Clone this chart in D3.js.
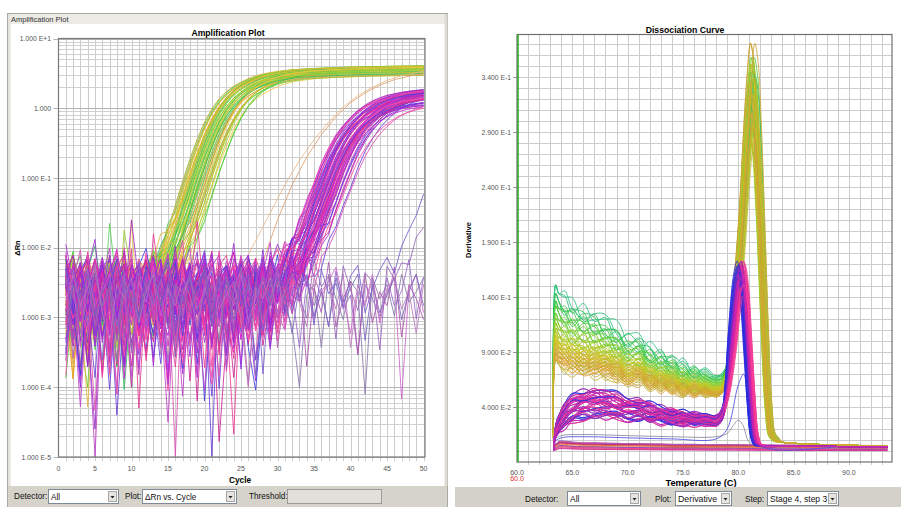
<!DOCTYPE html>
<html><head><meta charset="utf-8">
<script src="https://cdn.jsdelivr.net/npm/d3@7"></script>
<style>
body{margin:0;background:#fff;}
svg text{font-family:"Liberation Sans",Arial,sans-serif;}
</style></head>
<body><svg id="c" width="901" height="507"></svg>
<script>
// ================= DATA =================
// --- Amplification plot ---
const ampCycles = [1,2,3,4,5,6,7,8,9,10,11,12,13,14,15,16,17,18,19,20,21,22,23,24,25,26,27,28,29,30,31,32,33,34,35,36,37,38,39,40,41,42,43,44,45,46,47,48,49,50];
const ampXTicks = [0,5,10,15,20,25,30,35,40,45,50];
const ampYTicks = [10,1,0.1,0.01,0.001,0.0001,0.00001];
const ampYLabels = ["1.000 E+1","1.000","1.000 E-1","1.000 E-2","1.000 E-3","1.000 E-4","1.000 E-5"];
// early (green/yellow) amplification shape, log10(ΔRn) vs cycle
const greenTplCycle = [0,8,10,11,12,13,14,15,16,17,18,19,20,21,22,23,24,25,26,27,28,29,30,32,35,40,45,50,60];
const greenTplLog   = [-12,-4.32,-3.72,-3.42,-3.12,-2.82,-2.5,-2.2,-1.85,-1.5,-1.15,-0.82,-0.52,-0.27,-0.07,0.08,0.19,0.27,0.33,0.38,0.42,0.45,0.47,0.5,0.52,0.54,0.55,0.56,0.57];
const greenShift = [-1.0,0.2,1.1,-0.4,2.3,0.7,-0.8,1.6,0.0,2.9,0.4,-0.2,1.3,3.4,0.9,-0.6,1.9,0.5,2.6,-1.2,1.0,0.1,2.1];
const greenPlat  = [0.02,-0.03,0.0,0.04,-0.06,0.01,0.03,-0.02,0.05,-0.08,0.0,0.02,-0.04];
const greenColorsA = ["#3fcf3f","#9acd32","#d4c42a","#e8a030","#5ccc5c","#b8cc2e","#e0b840","#33bb66","#a6d23a","#eec844","#70cc30","#d8a848"];
// late (magenta/purple) amplification shape
const magTplCycle = [0,20,26,28,30,31,32,33,34,35,36,37,38,39,40,41,42,43,44,45,46,47,48,49,50,52,55,70];
const magTplLog   = [-12,-6.3,-4.5,-3.9,-3.2,-2.9,-2.6,-2.3,-2.0,-1.7,-1.4,-1.1,-0.82,-0.6,-0.42,-0.28,-0.17,-0.08,-0.01,0.04,0.08,0.11,0.13,0.15,0.16,0.18,0.2,0.22];
const magShift = [-2.0,-0.5,0.8,-1.3,0.2,1.6,-0.9,0.5,-1.7,1.1,-0.2,2.4,0.0,-1.1,0.9,-0.6,1.9,0.3,-1.5,0.6,3.2,-0.3,1.3];
const magPlat  = [0.05,-0.04,0.1,0.0,-0.1,0.07,-0.02,0.03,-0.15,0.08,-0.06,0.02,0.12];
const magColorsA = ["#d21ecf","#ee3a9a","#8a2be2","#c040c8","#4040e0","#e23a8e","#a52ad2","#dc50b4","#6a40dc","#cf2299","#ff4aa8","#9a33cc"];
// per-curve baseline level shift of the noise (log10)
const noiseLift = [0,-0.2,0.1,-0.1,-0.3,0.05,-0.15,0.15,-0.05,-0.25,0.08,-0.35,0.02];
// very late risers and negative controls
const lateShifts = [13.5,15.2];
const lateColors = ["#7a5acc","#9966bb"];
const orangeCycles = [[25,27,29,31,33,35,37,39,41,43,45,47,50],[28,30,32,34,36,38,40,42,44,46,48,50]];
const orangeLogs = [[-2.3,-1.9,-1.5,-1.1,-0.75,-0.45,-0.2,0.02,0.18,0.3,0.4,0.47,0.53],[-2.2,-1.6,-1.1,-0.7,-0.38,-0.12,0.08,0.22,0.33,0.41,0.46,0.5]];
const orangeColors = ["#e8b888","#dea070"];
const negColors = ["#9966cc","#cc66cc","#8877aa","#aa55aa","#7766bb","#bb77bb"];
// baseline noise, log10(ΔRn) x 100
const noiseRows = [
[-250,-205,-290,-230,-335,-220,-262,-300,-214,-272,-245,-322,-226,-281,-210,-302,-255,-236,-352,-241,-266,-221,-311,-246,-276,-231,-362,-251,-216,-291,-241,-306,-261,-226,-286,-251,-331,-236,-271,-246,-301,-221,-276,-256,-341,-241,-261,-286,-231,-271],
[-232,-281,-219,-312,-241,-266,-385,-236,-291,-213,-331,-251,-271,-226,-358,-246,-281,-209,-301,-261,-236,-341,-226,-296,-251,-271,-216,-316,-241,-261,-291,-226,-346,-256,-231,-301,-246,-276,-221,-311,-251,-266,-236,-291,-256,-226,-321,-246,-271,-241],
[-272,-224,-256,-372,-231,-286,-241,-198,-311,-251,-231,-276,-395,-241,-266,-221,-301,-246,-231,-291,-256,-216,-336,-261,-241,-281,-226,-251,-306,-236,-271,-246,-216,-301,-261,-351,-231,-256,-286,-226,-271,-241,-311,-231,-261,-296,-246,-226,-281,-256],
[-216,-261,-311,-241,-271,-226,-296,-251,-231,-405,-246,-226,-281,-256,-241,-331,-221,-271,-251,-226,-301,-246,-378,-236,-266,-216,-286,-241,-331,-256,-231,-276,-251,-216,-301,-241,-271,-226,-296,-261,-236,-281,-216,-306,-246,-266,-231,-291,-251,-236],
[-291,-246,-226,-271,-236,-345,-256,-281,-241,-226,-301,-266,-236,-291,-251,-226,-371,-241,-271,-231,-256,-311,-241,-226,-286,-251,-301,-231,-266,-246,-226,-321,-241,-281,-256,-231,-291,-251,-226,-271,-341,-241,-261,-226,-286,-251,-236,-301,-246,-261],
[-241,-301,-261,-226,-331,-251,-231,-276,-361,-246,-221,-266,-251,-301,-231,-281,-246,-216,-321,-256,-241,-271,-226,-306,-241,-261,-236,-281,-251,-226,-381,-246,-266,-231,-291,-256,-241,-311,-231,-266,-251,-286,-241,-226,-301,-266,-241,-226,-311,-246],
[-261,-236,-271,-301,-216,-256,-241,-331,-226,-261,-291,-236,-251,-398,-231,-261,-241,-286,-226,-266,-251,-231,-291,-241,-311,-256,-226,-271,-241,-351,-236,-256,-281,-246,-226,-266,-301,-241,-251,-231,-276,-256,-241,-321,-231,-261,-286,-241,-256,-231],
[-226,-271,-246,-212,-281,-321,-241,-261,-231,-296,-251,-226,-341,-246,-271,-231,-256,-301,-241,-216,-276,-256,-236,-291,-388,-246,-261,-231,-286,-251,-241,-266,-301,-231,-256,-241,-276,-226,-331,-251,-266,-236,-291,-246,-231,-276,-251,-311,-241,-266]
];
// individual spikes / deep dips: [group, curve, cycle, log10]
const ampOverrides = [
["mag",3,5,-5.0],["mag",11,5,-4.6],["green",6,12,-4.6],["green",2,13,-4.3],["mag",7,16,-5.0],["mag",15,15,-4.5],
["mag",20,21,-5.0],["mag",9,22,-4.8],["mag",1,24,-5.0],["mag",18,30,-4.7],["neg",2,33,-4.0],["mag",5,11,-4.3],
["mag",13,8,-4.1],["green",10,4,-4.0],["mag",27,3,-3.9],["mag",33,19,-4.2],["mag",40,27,-4.4],
["green",4,7,-1.65],["green",9,10,-1.6],["green",13,9,-1.75],["mag",6,10,-1.6],["mag",17,19,-1.62],["mag",25,13,-1.8],["mag",30,1,-1.95]
];

// --- Dissociation curve ---
const dXTicks = [60,65,70,75,80,85,90];
const dXLabels = ["60.0","65.0","70.0","75.0","80.0","85.0","90.0"];
const dYTicks = [0.04,0.09,0.14,0.19,0.24,0.29,0.34];
const dYLabels = ["4.000 E-2","9.000 E-2","1.400 E-1","1.900 E-1","2.400 E-1","2.900 E-1","3.400 E-1"];
const dTemp = [63.3,63.5,63.8,64.3,65,66,67,68,69,70,71,72,73,74,75,76,77,78,78.5,79,79.5,80,80.3,80.6,80.9,81.2,81.5,81.8,82.1,82.4,82.7,83.0,83.4,84,85,86,87,88,89,90,91,92,93,93.5];
const dGreen = [0.012,0.112,0.106,0.102,0.098,0.095,0.092,0.088,0.085,0.081,0.077,0.073,0.07,0.067,0.064,0.061,0.059,0.058,0.06,0.072,0.11,0.165,0.205,0.255,0.295,0.32,0.305,0.255,0.18,0.1,0.04,0.015,0.01,0.008,0.007,0.0065,0.006,0.0058,0.0055,0.0053,0.005,0.005,0.0048,0.0047];
const dMag = [0.0,0.018,0.025,0.032,0.038,0.042,0.043,0.042,0.041,0.039,0.037,0.035,0.033,0.031,0.030,0.029,0.028,0.028,0.033,0.055,0.10,0.15,0.16,0.145,0.10,0.05,0.015,0.006,0.005,0.0045,0.0045,0.0045,0.0045,0.0045,0.0044,0.0043,0.0042,0.0042,0.0041,0.004,0.004,0.0039,0.0038,0.0038];
const dFlat = [0.008,0.004,0.006,0.006,0.0055,0.005,0.005,0.0048,0.0047,0.0045,0.0045,0.0043,0.0042,0.004,0.004,0.004,0.0038,0.0038,0.0038,0.0038,0.0038,0.0037,0.0037,0.0037,0.0036,0.0036,0.0036,0.0035,0.0035,0.0035,0.0035,0.0035,0.0034,0.0034,0.0034,0.0033,0.0033,0.0033,0.0032,0.0032,0.0032,0.0031,0.0031,0.003];
const greenBase = [1.35,1.28,1.22,1.18,1.12,1.08,1.04,1.0,0.97,0.94,0.92,0.9,0.88,0.86,0.84,0.82,0.8,0.78,0.76,0.74];
const greenColorsD = ["#2fbf7f","#33c25a","#3fc84a","#55cc3c","#6fd03a","#88cc30","#99cc2a","#a8c828","#b8c826","#c4c424","#cccc22","#d0c020","#c8b820","#d4b030","#ccb040","#d8a838","#c8a030","#d0a840","#e0a030","#c0b030"];
const greenPeak = [1.0,1.08,0.95,1.12,0.9,1.04,0.97,1.1,0.93,1.02,1.06,0.88,0.99,1.05,0.92,1.16,0.96,1.01,0.94,1.07,0.98];
const greenTShift = [0.0,0.15,-0.1,0.25,-0.2,0.08,0.3,-0.05,0.12,-0.15,0.2,0.05,-0.25,0.1,0.35,-0.08,0.18];
const magBase = [1.15,0.8,1.28,0.72,1.0,1.2,0.9,1.08,0.66,1.32,0.86,1.12,0.76,1.04,0.95];
const magPeak = [1.0,0.92,1.05,0.96,1.08,0.9,1.02,0.94,1.06,0.98,0.88,1.04,0.95];
const magTShift = [-0.3,-0.1,0.1,-0.2,0.2,0.0,-0.4,0.15,-0.05,0.3,-0.25,0.05];
const magColorsD = ["#3030d8","#d020a0","#e83890","#6a2ad0","#ff3a9a","#c020c0","#2a2ae0","#e0308a","#b020b0","#f0409a","#5030d0","#d82a9a"];
const flatScale = [0.7,1.3,1.0,0.85,1.5,1.15,0.6,1.2,0.95,1.4,0.8,1.1,0.9,1.25,0.75,1.05];
const flatColors = ["#e0307a","#c020c0","#ff5a8a","#d04070","#9a3ad0","#e85a5a","#cc2299","#f06090","#b030b0","#e04060","#d2691e","#a05ad0","#ff4080","#c03070","#e07030","#8a40c0"];
// small wiggles (x 0.001) on the 64.3..78 C shoulder
const wiggles = [
[3,-4,6,-2,5,-6,2,7,-3,4,-5,3,-2,4,0],
[-5,4,-2,7,-4,3,-6,2,5,-3,6,-4,3,-1,2],
[2,6,-5,-1,4,7,-3,-5,6,1,-4,5,-2,3,-1],
[-3,-6,4,5,-2,-4,6,3,-5,2,4,-3,5,-2,1],
[6,-1,-4,3,7,-2,-5,4,2,-6,3,1,-4,2,-2],
[-2,3,5,-6,1,4,-3,6,-4,5,-2,-5,4,1,-1]
];
const oddTemps = [[63.3,64,66,70,74,78,79,79.6,80,80.4,81,82,85,90,93.5],[63.3,64,66,70,74,78,79,80,80.5,81,82,90,93.5]];
const oddVals = [[0.01,0.014,0.015,0.014,0.013,0.013,0.016,0.024,0.028,0.024,0.008,0.004,0.004,0.004,0.004],[0.008,0.012,0.013,0.012,0.011,0.011,0.02,0.06,0.07,0.03,0.005,0.004,0.003]];
const oddColors = ["#8888a0","#5050e0"];

// ================= DRAWING =================
const svg = d3.select("#c");
const defs = svg.append("defs");

// ---------- Left panel frame ----------
svg.append("rect").attr("x",7.5).attr("y",13.5).attr("width",440).attr("height",493).attr("fill","#fff").attr("stroke","#a9a9a2");
svg.append("rect").attr("x",8).attr("y",14).attr("width",439).attr("height",10).attr("fill","#ecebe6");
svg.append("rect").attr("x",8).attr("y",14).attr("width",2.5).attr("height",472).attr("fill","#e4e2dc");
svg.append("rect").attr("x",444.5).attr("y",14).attr("width",3).attr("height",472).attr("fill","#dddbd4");
svg.append("text").attr("x",11).attr("y",21.5).attr("font-size","7.5px").attr("fill","#333").text("Amplification Plot");

const ax = d3.scaleLinear().domain([0,50.2]).range([58.5,425]);
const ay = d3.scaleLog().domain([1e-5,10]).range([457,38.5]);
const A = {l:58.5,r:425,t:38.5,b:457};

const gA = svg.append("g");
const vx = ampCycles.map(c=>Math.round(ax(c))+0.5);
gA.selectAll(".vg").data(vx).enter().append("line").attr("x1",d=>d).attr("x2",d=>d).attr("y1",A.t).attr("y2",A.b+4).attr("stroke","#cccccc").attr("stroke-width",1);
const minors = [];
for (let e=-5;e<1;e++) for (let k=2;k<10;k++) minors.push(k*Math.pow(10,e));
gA.selectAll(".hg").data(minors).enter().append("line").attr("x1",A.l).attr("x2",A.r).attr("y1",d=>Math.round(ay(d))+0.5).attr("y2",d=>Math.round(ay(d))+0.5).attr("stroke","#cfcfcf");
gA.selectAll(".hm").data(ampYTicks).enter().append("line").attr("x1",A.l-5).attr("x2",A.r).attr("y1",d=>Math.round(ay(d))+0.5).attr("y2",d=>Math.round(ay(d))+0.5).attr("stroke","#b4b4b4");

defs.append("clipPath").attr("id","clipA").append("rect").attr("x",A.l).attr("y",A.t).attr("width",A.r-A.l).attr("height",A.b-A.t);
const gAc = svg.append("g").attr("clip-path","url(#clipA)");
const ampLine = d3.line().x(d=>ax(d[0])).y(d=>ay(Math.pow(10,d[1])));
const gTpl = d3.scaleLinear().domain(greenTplCycle).range(greenTplLog).clamp(true);
const mTpl = d3.scaleLinear().domain(magTplCycle).range(magTplLog).clamp(true);
function ovr(group,i,c){ for (const o of ampOverrides) if (o[0]===group && o[1]===i && o[2]===c) return o[3]; return null; }
function buildAmp(group,i,tpl,s,dp,row,off,lift){
  const r = noiseRows[row];
  return ampCycles.map(c=>{
    let a = tpl ? tpl(c-s) : -12;
    if (tpl) a += dp*Math.max(0,Math.min(1,(a+2)/2.56));
    let n = r[(c-1+off)%r.length]/100 + lift;
    const o = ovr(group,i,c); if (o!==null) n = o;
    return [c, Math.log10(Math.pow(10,a)+Math.pow(10,n))];
  });
}
const ampCurves = [];
for (let i=0;i<46;i++) ampCurves.push({pts:buildAmp("green",i,gTpl,greenShift[i%greenShift.length],greenPlat[i%greenPlat.length],i%8,(i*7)%50,noiseLift[i%noiseLift.length]), color:greenColorsA[i%greenColorsA.length]});
orangeCycles.forEach((cs,j)=>{
  const r = noiseRows[(j*3+1)%8];
  const pts = ampCycles.filter(c=>c<cs[0]).map(c=>[c, r[(c-1+j*13)%50]/100]);
  cs.forEach((c,k)=>pts.push([c,orangeLogs[j][k]]));
  ampCurves.push({pts, color:orangeColors[j]});
});
for (let i=0;i<64;i++) ampCurves.push({pts:buildAmp("mag",i,mTpl,magShift[i%magShift.length],magPlat[i%magPlat.length],(i+3)%8,(i*11)%50,noiseLift[(i+5)%noiseLift.length]), color:magColorsA[i%magColorsA.length]});
for (let i=0;i<6;i++) ampCurves.push({pts:buildAmp("neg",i,null,0,0,(i*3)%8,(i*9+4)%50,-0.12), color:negColors[i]});
lateShifts.forEach((s,j)=>ampCurves.push({pts:buildAmp("late",j,mTpl,s,0,(j+5)%8,(j*17+3)%50,0), color:lateColors[j]}));
gAc.selectAll(".ac").data(ampCurves).enter().append("path").attr("d",d=>ampLine(d.pts)).attr("fill","none").attr("stroke",d=>d.color).attr("stroke-width",1).attr("stroke-opacity",0.85);

svg.append("rect").attr("x",A.l).attr("y",A.t).attr("width",A.r-A.l).attr("height",A.b-A.t).attr("fill","none").attr("stroke","#7a7a7a").attr("stroke-width",1.2);
svg.selectAll(".ayl").data(ampYTicks).enter().append("text").attr("x",51).attr("y",d=>ay(d)+2.5).attr("text-anchor","end").attr("font-size","6.8px").attr("fill","#555").text((d,i)=>ampYLabels[i]);
svg.selectAll(".axl").data(ampXTicks).enter().append("text").attr("x",d=>ax(d)).attr("y",471).attr("text-anchor","middle").attr("font-size","7px").attr("fill","#555").text(d=>d);
svg.append("text").attr("x",228).attr("y",36).attr("text-anchor","middle").attr("font-size","8.6px").attr("font-weight","bold").text("Amplification Plot");
svg.append("text").attr("x",240).attr("y",483).attr("text-anchor","middle").attr("font-size","8.3px").attr("font-weight","bold").text("Cycle");
svg.append("text").attr("transform","translate(20,248) rotate(-90)").attr("text-anchor","middle").attr("font-size","7.5px").attr("font-weight","bold").text("ΔRn");

// ---------- Right panel ----------
const dx = d3.scaleLinear().domain([60,93.9]).range([517,892]);
const dy = d3.scaleLinear().domain([-0.01,0.3791]).range([462,34.5]);
const D = {l:517,r:892,t:34.5,b:462};
const gD = svg.append("g");
const dVert = []; for (let t=61;t<=93;t++) dVert.push(t);
gD.selectAll(".dv").data(dVert).enter().append("line").attr("x1",d=>Math.round(dx(d))+0.5).attr("x2",d=>Math.round(dx(d))+0.5).attr("y1",D.t).attr("y2",D.b+3).attr("stroke","#cccccc");
const dHor = []; for (let k=0;k<=37;k++) dHor.push(k/100);
gD.selectAll(".dh").data(dHor).enter().append("line").attr("x1",D.l).attr("x2",D.r).attr("y1",d=>Math.round(dy(d))+0.5).attr("y2",d=>Math.round(dy(d))+0.5).attr("stroke","#cccccc");
gD.selectAll(".dt").data(dYTicks).enter().append("line").attr("x1",D.l-4).attr("x2",D.l).attr("y1",d=>Math.round(dy(d))+0.5).attr("y2",d=>Math.round(dy(d))+0.5).attr("stroke","#999");

defs.append("clipPath").attr("id","clipD").append("rect").attr("x",D.l).attr("y",D.t).attr("width",D.r-D.l).attr("height",D.b-D.t);
const gDc = svg.append("g").attr("clip-path","url(#clipD)");
const dLine = d3.line().curve(d3.curveCatmullRom.alpha(0.5)).x(d=>dx(d[0])).y(d=>dy(d[1]));
const wigStart = dTemp.indexOf(64.3);
function buildDiss(tpl,bs,ps,sh,wrow,ws){
  return dTemp.map((T,k)=>{
    let v = tpl[k], t = T;
    const f = T<64 ? 1 : Math.max(0.5, 1-0.5*(T-64)/14);
    const be = 1+(bs-1)*f;
    if (T<=78.5){ v = v*be; const wi = k-wigStart; if (wrow && wi>=0 && wi<wrow.length) v += wrow[wi]*ws/1000; }
    else if (T<=79){ v = v*(be+ps)/2; t = T+sh*0.5; }
    else if (T<=83.4){ v = v*ps; t = T+sh; }
    return [t,v];
  });
}
const dCurves = [];
flatScale.forEach((s,i)=>dCurves.push({pts:dTemp.map((T,k)=>[T,dFlat[k]*s + (i%3-1)*0.0015]), color:flatColors[i]}));
oddTemps.forEach((ts,j)=>dCurves.push({pts:ts.map((t,k)=>[t,oddVals[j][k]]), color:oddColors[j]}));
for (let i=0;i<60;i++){
  const bi = i%greenBase.length;
  dCurves.push({pts:buildDiss(dGreen,greenBase[bi],greenPeak[i%greenPeak.length],greenTShift[i%greenTShift.length],wiggles[i%wiggles.length],0.6+0.6*greenBase[bi]), color:greenColorsD[bi]});
}
for (let i=0;i<66;i++){
  const si = i%magTShift.length;
  dCurves.push({pts:buildDiss(dMag,magBase[i%magBase.length],magPeak[i%magPeak.length],magTShift[si],wiggles[(i+2)%wiggles.length],0.45), color:magColorsD[si]});
}
gDc.selectAll(".dc").data(dCurves).enter().append("path").attr("d",d=>dLine(d.pts)).attr("fill","none").attr("stroke",d=>d.color).attr("stroke-width",1).attr("stroke-opacity",0.85);

svg.append("rect").attr("x",D.l).attr("y",D.t).attr("width",D.r-D.l).attr("height",D.b-D.t).attr("fill","none").attr("stroke","#707070").attr("stroke-width",1.2);
svg.append("line").attr("x1",D.l+1).attr("x2",D.l+1).attr("y1",D.t).attr("y2",D.b).attr("stroke","#22aa22").attr("stroke-width",1.5);
svg.selectAll(".dyl").data(dYTicks).enter().append("text").attr("x",511).attr("y",d=>dy(d)+2.5).attr("text-anchor","end").attr("font-size","6.8px").attr("fill","#555").text((d,i)=>dYLabels[i]);
svg.selectAll(".dxl").data(dXTicks).enter().append("text").attr("x",d=>dx(d)).attr("y",475).attr("text-anchor","middle").attr("font-size","7px").attr("fill","#555").text((d,i)=>dXLabels[i]);
svg.append("text").attr("x",dx(60)).attr("y",481).attr("text-anchor","middle").attr("font-size","7px").attr("fill","#e03030").text("60.0");
svg.append("text").attr("x",685).attr("y",33).attr("text-anchor","middle").attr("font-size","8.7px").attr("font-weight","bold").text("Dissociation Curve");
svg.append("text").attr("x",701).attr("y",486).attr("text-anchor","middle").attr("font-size","9.3px").attr("font-weight","bold").text("Temperature (C)");
svg.append("text").attr("transform","translate(471,240) rotate(-90)").attr("text-anchor","middle").attr("font-size","7.5px").attr("font-weight","bold").text("Derivative");

// ---------- control bars ----------
function label(x,y,t,fs){ svg.append("text").attr("x",x).attr("y",y).attr("font-size",fs).attr("fill","#111").text(t); }
function combo(x,y,w,h,t,fs){
  svg.append("rect").attr("x",x+0.5).attr("y",y+0.5).attr("width",w).attr("height",h).attr("fill","#fff").attr("stroke","#7f8a99");
  svg.append("text").attr("x",x+3).attr("y",y+h-3.5).attr("font-size",fs).attr("fill","#111").text(t);
  svg.append("rect").attr("x",x+w-9.5).attr("y",y+2.5).attr("width",8).attr("height",h-4).attr("fill","#e6e4de").attr("stroke","#a8a8a8");
  svg.append("path").attr("d",`M${x+w-7.5},${y+h/2}l4,0l-2,2.5z`).attr("fill","#222");
}
svg.append("rect").attr("x",8).attr("y",486).attr("width",439).attr("height",21).attr("fill","#d6d3cb");
label(14,499,"Detector:","8.2px"); combo(48,489,70,14,"All","8.2px");
label(125,499,"Plot:","8.2px"); combo(142,489,94,14,"ΔRn vs. Cycle","8.2px");
label(249,499,"Threshold:","8.2px");
svg.append("rect").attr("x",287.5).attr("y",489.5).attr("width",94).attr("height",14).attr("fill","#e2e0da").attr("stroke","#9a9a9a");

svg.append("rect").attr("x",455).attr("y",487).attr("width",446).attr("height",20).attr("fill","#d4d1c9");
label(525,502,"Detector:","8.2px"); combo(567,491,73,14,"All","8.5px");
label(655,502,"Plot:","8.2px"); combo(675,491,56,14,"Derivative","8.8px");
label(745,502,"Step:","8.2px"); combo(767,491,71,14,"Stage 4, step 3","8.5px");
</script></body></html>
